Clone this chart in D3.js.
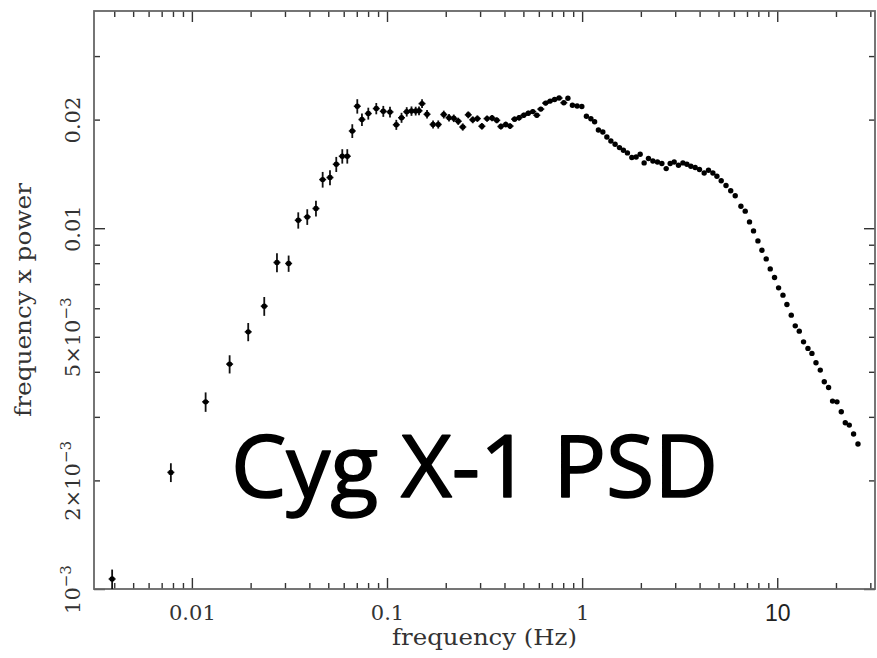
<!DOCTYPE html>
<html>
<head>
<meta charset="utf-8">
<script src="https://cdn.jsdelivr.net/npm/d3@7"></script>
<style>
  html, body { margin: 0; padding: 0; background: #fff; }
  svg { display: block; }
</style>
</head>
<body>
<svg id="chart" width="877" height="658"></svg>
<script>
// ---------------- data ----------------
const freq = [
  0.003902, 0.007803, 0.01176, 0.01561, 0.01944, 0.02349, 0.02729, 0.03132, 0.03509, 0.03902,
  0.04324, 0.0468, 0.05102, 0.05495, 0.05899, 0.06258, 0.06639, 0.07042, 0.0744, 0.0802,
  0.08812, 0.09573, 0.1036, 0.1116, 0.1187, 0.1262, 0.1335, 0.1403, 0.1459, 0.1512,
  0.1604, 0.1722, 0.1831, 0.1954, 0.2079, 0.2199, 0.2318, 0.2445, 0.2609, 0.2751,
  0.2905, 0.3064, 0.3257, 0.3455, 0.3652, 0.3833, 0.4061, 0.4273, 0.4506, 0.4752,
  0.5023, 0.5298, 0.5587, 0.5857, 0.614, 0.650, 0.6855, 0.7228, 0.7623, 0.8058,
  0.8456, 0.8918, 0.9428, 0.9965, 1.052, 1.109, 1.159, 1.212, 1.277, 1.339,
  1.404, 1.476, 1.554, 1.628, 1.707, 1.798, 1.892, 1.984, 2.079, 2.188,
  2.305, 2.433, 2.563, 2.697, 2.827, 2.964, 3.118, 3.285, 3.443, 3.609,
  3.797, 3.995, 4.223, 4.443, 4.680, 4.907, 5.162, 5.463, 5.775, 6.090,
  6.514, 6.854, 7.210, 7.560, 7.962, 8.347, 8.781, 9.207, 9.687, 10.16,
  10.70, 11.21, 11.80, 12.37, 12.97, 13.64, 14.37, 15.06, 15.80, 16.62,
  17.42, 18.33, 19.21, 20.24, 21.29, 22.32, 23.40, 24.62, 25.93
];
const power = [
  0.001066, 0.002105, 0.003302, 0.004201, 0.005161, 0.006081, 0.008035, 0.007984, 0.01052, 0.01075,
  0.01134, 0.01364, 0.01382, 0.01504, 0.01583, 0.01583, 0.0186, 0.02178, 0.02001, 0.02079,
  0.02146, 0.02109, 0.0210, 0.01935, 0.02024, 0.02102, 0.02112, 0.02112, 0.02116, 0.02215,
  0.02069, 0.01939, 0.01939, 0.02066, 0.02024, 0.02017, 0.01979, 0.01908, 0.02062, 0.01998,
  0.02013, 0.01917, 0.02013, 0.0202, 0.01991, 0.01914, 0.01939, 0.01919, 0.02006, 0.02024,
  0.02056, 0.02083, 0.02105, 0.02056, 0.02139, 0.02222, 0.02251, 0.02274, 0.02295, 0.02227,
  0.02292, 0.02192, 0.02181, 0.02174, 0.02043, 0.02011, 0.01972, 0.01871, 0.01848, 0.0179,
  0.01745, 0.01709, 0.01673, 0.01645, 0.01617, 0.0157, 0.01576, 0.01603, 0.01517, 0.0156,
  0.01536, 0.01526, 0.01511, 0.01463, 0.01511, 0.01526, 0.01495, 0.01517, 0.01504, 0.01485,
  0.01473, 0.01454, 0.01423, 0.01447, 0.01423, 0.01393, 0.01354, 0.01313, 0.0127, 0.0123,
  0.01151, 0.01115, 0.01041, 0.009829, 0.009222, 0.008692, 0.008222, 0.007714, 0.007301, 0.006834,
  0.006524, 0.006147, 0.005741, 0.005363, 0.005185, 0.004842, 0.004644, 0.004498, 0.004236, 0.004043,
  0.003752, 0.00362, 0.003317, 0.003302, 0.003099, 0.002888, 0.002846, 0.002688, 0.002522
];
// relative 1-sigma errors of the first points (later errors are hidden by the markers)
const errFrac = [
  0.062, 0.06, 0.062, 0.058, 0.058, 0.06, 0.06, 0.052, 0.052, 0.05,
  0.05, 0.05, 0.048, 0.048, 0.046, 0.046, 0.044, 0.046, 0.04, 0.038,
  0.036, 0.035, 0.034, 0.032, 0.032, 0.03, 0.03, 0.028, 0.028, 0.028,
  0.027, 0.026, 0.026, 0.025, 0.024, 0.024, 0.023, 0.023, 0.022, 0.022,
  0.021, 0.021, 0.02, 0.02, 0.019, 0.019, 0.018, 0.018, 0.017, 0.017,
  0.016, 0.016, 0.015, 0.015, 0.014, 0.014, 0.013, 0.013, 0.012, 0.012
];

const xDomain = [0.00315, 31.7];
const yDomain = [0.001, 0.04];
const xMajor = [0.01, 0.1, 1, 10];
const xMajorLabels = ["0.01", "0.1", "1", "10"];
const xMinor = [0.004, 0.005, 0.006, 0.007, 0.008, 0.009,
                0.02, 0.03, 0.04, 0.05, 0.06, 0.07, 0.08, 0.09,
                0.2, 0.3, 0.4, 0.5, 0.6, 0.7, 0.8, 0.9,
                2, 3, 4, 5, 6, 7, 8, 9, 20, 30];
const yMajor = [0.001, 0.01];
const yMinor = [0.002, 0.003, 0.004, 0.005, 0.006, 0.007, 0.008, 0.009, 0.02, 0.03];
const yLabelValues = [0.001, 0.002, 0.005, 0.01, 0.02];
const yLabelBase = ["10", "2×10", "5×10", "0.01", "0.02"];
const yLabelExp  = ["−3", "−3", "−3", "", ""];

const xTitle = "frequency (Hz)";
const yTitle = "frequency x power";
const bigTitle = "Cyg X-1 PSD";

// ---------------- layout ----------------
const L = 94, R = 875, T = 11, B = 589;
const svg = d3.select("#chart");

const x = d3.scaleLog().domain(xDomain).range([L, R]);
const y = d3.scaleLog().domain(yDomain).range([B, T]);

const labelFont = "'DejaVu Serif', serif";

function styleAxis(g) {
  g.select(".domain").remove();
  g.selectAll(".tick line").attr("stroke", "#333").attr("stroke-width", 1.4);
}

// bottom axis: major with labels, minor without
const gxB = svg.append("g").attr("transform", `translate(0,${B})`)
  .call(d3.axisBottom(x).tickValues(xMajor).tickSize(-11).tickPadding(16)
        .tickFormat((d, i) => xMajorLabels[i]));
styleAxis(gxB);
gxB.selectAll("text").attr("font-family", labelFont).attr("font-size", 21).attr("fill", "#333");
gxB.selectAll("text").filter((d) => d === 10)
  .attr("font-family", "'Liberation Sans', Arial, sans-serif").attr("font-size", 23).attr("fill", "#222");
svg.append("g").attr("transform", `translate(0,${B})`)
  .call(d3.axisBottom(x).tickValues(xMinor).tickSize(-6).tickFormat(""))
  .call(styleAxis);

// top axis (ticks only)
svg.append("g").attr("transform", `translate(0,${T})`)
  .call(d3.axisTop(x).tickValues(xMajor).tickSize(-11).tickFormat(""))
  .call(styleAxis);
svg.append("g").attr("transform", `translate(0,${T})`)
  .call(d3.axisTop(x).tickValues(xMinor).tickSize(-6).tickFormat(""))
  .call(styleAxis);

// left axis ticks
svg.append("g").attr("transform", `translate(${L},0)`)
  .call(d3.axisLeft(y).tickValues(yMajor).tickSize(-11).tickFormat(""))
  .call(styleAxis);
svg.append("g").attr("transform", `translate(${L},0)`)
  .call(d3.axisLeft(y).tickValues(yMinor).tickSize(-6).tickFormat(""))
  .call(styleAxis);

// left axis labels (rotated)
const gyL = svg.append("g").attr("transform", `translate(${L},0)`)
  .call(d3.axisLeft(y).tickValues(yLabelValues).tickSize(0).tickFormat(""));
gyL.select(".domain").remove();
gyL.selectAll(".tick line").remove();
gyL.selectAll(".tick text").each(function (d, i) {
  const t = d3.select(this);
  t.text(null)
    .attr("transform", "rotate(-90)")
    .attr("x", 0).attr("y", -14).attr("dy", 0)
    .attr("text-anchor", "middle")
    .attr("font-family", labelFont).attr("font-size", 21).attr("fill", "#333");
  t.append("tspan").text(yLabelBase[i]);
  if (yLabelExp[i]) {
    t.append("tspan").attr("dy", -9).attr("font-size", 15).text(yLabelExp[i]);
  }
});

// right axis ticks
svg.append("g").attr("transform", `translate(${R},0)`)
  .call(d3.axisRight(y).tickValues(yMajor).tickSize(-11).tickFormat(""))
  .call(styleAxis);
svg.append("g").attr("transform", `translate(${R},0)`)
  .call(d3.axisRight(y).tickValues(yMinor).tickSize(-6).tickFormat(""))
  .call(styleAxis);

// frame
svg.append("rect")
  .attr("x", L).attr("y", T).attr("width", R - L).attr("height", B - T)
  .attr("fill", "none").attr("stroke", "#666").attr("stroke-width", 1.8);

// axis titles
svg.append("text")
  .attr("x", (L + R) / 2).attr("y", 645)
  .attr("text-anchor", "middle")
  .attr("font-family", labelFont).attr("font-size", 22).attr("fill", "#333")
  .attr("textLength", 185).attr("lengthAdjust", "spacingAndGlyphs")
  .text(xTitle);
svg.append("text")
  .attr("transform", `translate(31,${(T + B) / 2}) rotate(-90)`)
  .attr("text-anchor", "middle")
  .attr("font-family", labelFont).attr("font-size", 22).attr("fill", "#333")
  .attr("textLength", 234).attr("lengthAdjust", "spacingAndGlyphs")
  .text(yTitle);

// ---------------- data marks ----------------
const pts = freq.map((f, i) => ({ f, p: power[i], e: i < errFrac.length ? errFrac[i] : 0 }));
const marks = svg.append("g");

marks.selectAll("line.err")
  .data(pts.filter(d => d.e > 0))
  .enter().append("line").attr("class", "err")
  .attr("x1", d => x(d.f)).attr("x2", d => x(d.f))
  .attr("y1", d => y(d.p * (1 + d.e))).attr("y2", d => y(d.p * (1 - d.e)))
  .attr("stroke", "#111").attr("stroke-width", 1.8);

marks.selectAll("line.hbar")
  .data(pts.filter(d => d.e > 0))
  .enter().append("line").attr("class", "hbar")
  .attr("x1", d => x(d.f) - 3.5).attr("x2", d => x(d.f) + 3.5)
  .attr("y1", d => y(d.p)).attr("y2", d => y(d.p))
  .attr("stroke", "#111").attr("stroke-width", 1.5);

marks.selectAll("circle")
  .data(pts)
  .enter().append("circle")
  .attr("cx", d => x(d.f)).attr("cy", d => y(d.p))
  .attr("r", 2.7).attr("fill", "#000");

// big overlay title
svg.append("text")
  .attr("x", 231).attr("y", 497)
  .attr("font-family", "'Comic Sans MS', 'Open Sans', sans-serif")
  .attr("font-size", 86).attr("fill", "#000")
  .attr("stroke", "#000").attr("stroke-width", 1.6).attr("stroke-linejoin", "round")
  .attr("textLength", 487).attr("lengthAdjust", "spacingAndGlyphs")
  .text(bigTitle);
</script>
</body>
</html>
